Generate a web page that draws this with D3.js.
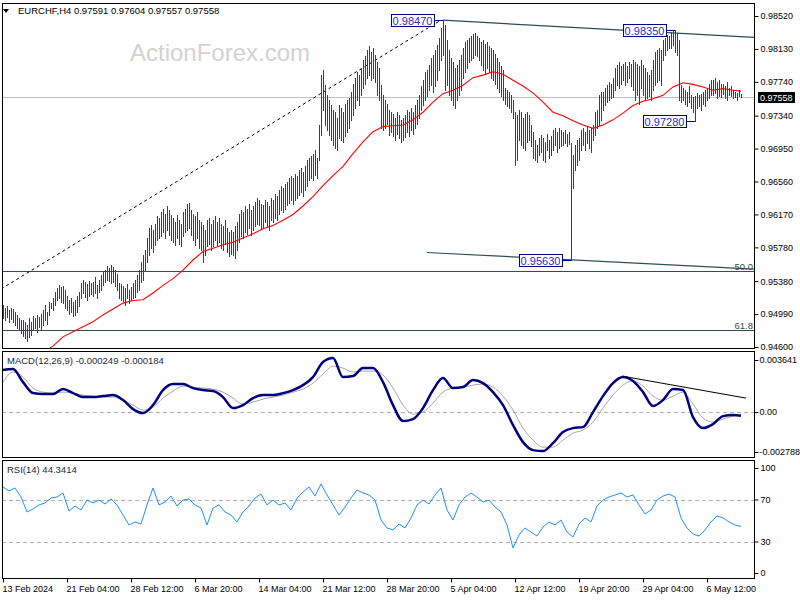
<!DOCTYPE html>
<html><head><meta charset="utf-8">
<script src="https://cdn.jsdelivr.net/npm/d3@7"></script>
<style>body{margin:0;background:#fff} text{font-family:"Liberation Sans",Arial,sans-serif}</style>
</head><body><svg id="c" width="800" height="600"></svg>
<script>
// ---------- DATA ----------
const high = [
.9510,.9506,.9509,.9504,.9506,.9505,.9501,.9498,.9494,.9492,
.9492,.9490,.9486,.9494,.9490,.9497,.9494,.9498,.9495,.9499,
.9504,.9510,.9501,.9513,.9512,.9518,.9525,.9530,.9533,.9531,
.9532,.9527,.9520,.9516,.9518,.9513,.9516,.9520,.9525,.9536,
.9539,.9537,.9535,.9538,.9536,.9537,.9543,.9533,.9539,.9545,
.9549,.9551,.9556,.9554,.9557,.9555,.9551,.9546,.9536,.9535,
.9532,.9530,.9535,.9527,.9531,.9536,.9539,.9545,.9551,.9561,
.9569,.9575,.9589,.9601,.9604,.9598,.9606,.9615,.9613,.9620,
.9624,.9617,.9627,.9622,.9616,.9613,.9608,.9616,.9610,.9606,
.9620,.9624,.9629,.9630,.9622,.9617,.9615,.9620,.9610,.9608,
.9604,.9598,.9610,.9613,.9606,.9610,.9615,.9608,.9613,.9606,
.9603,.9610,.9601,.9596,.9598,.9596,.9603,.9608,.9617,.9622,
.9620,.9627,.9624,.9629,.9622,.9627,.9632,.9636,.9634,.9629,
.9628,.9634,.9632,.9627,.9636,.9634,.9641,.9639,.9646,.9651,
.9648,.9653,.9655,.9660,.9663,.9660,.9665,.9663,.9670,.9672,
.9667,.9674,.9682,.9684,.9686,.9689,.9693,.9684,.9723,.9782,
.9788,.9770,.9758,.9752,.9747,.9741,.9738,.9731,.9747,.9743,
.9738,.9748,.9752,.9755,.9762,.9771,.9779,.9786,.9782,.9790,
.9800,.9805,.9812,.9816,.9809,.9814,.9806,.9797,.9790,.9770,
.9758,.9752,.9748,.9741,.9738,.9736,.9731,.9738,.9735,.9729,
.9731,.9735,.9741,.9738,.9743,.9738,.9747,.9752,.9758,.9769,
.9776,.9786,.9788,.9794,.9802,.9806,.9812,.9818,.9826,.9838,
.9847,.9841,.9824,.9812,.9802,.9797,.9790,.9794,.9800,.9806,
.9814,.9821,.9824,.9826,.9828,.9831,.9832,.9828,.9826,.9821,
.9824,.9819,.9821,.9816,.9814,.9812,.9807,.9802,.9797,.9793,
.9788,.9767,.9764,.9762,.9758,.9752,.9738,.9735,.9741,.9738,
.9731,.9736,.9738,.9735,.9723,.9715,.9705,.9699,.9707,.9711,
.9707,.9703,.9712,.9705,.9710,.9717,.9719,.9715,.9719,.9717,
.9715,.9717,.9712,.9715,.9702,.9687,.9699,.9705,.9707,.9717,
.9719,.9715,.9721,.9717,.9719,.9723,.9738,.9741,.9758,.9762,
.9762,.9767,.9770,.9774,.9771,.9779,.9790,.9794,.9797,.9793,
.9795,.9797,.9793,.9797,.9795,.9800,.9797,.9795,.9793,.9800,
.9794,.9790,.9786,.9782,.9788,.9800,.9809,.9812,.9814,.9812,
.9824,.9826,.9829,.9828,.9833,.9834,.9835,.9832,.9824,.9770,
.9767,.9764,.9762,.9769,.9758,.9756,.9757,.9761,.9758,.9760,
.9762,.9764,.9767,.9771,.9776,.9776,.9779,.9774,.9776,.9771,
.9771,.9769,.9774,.9767,.9769,.9764,.9762,.9761,.9764,.9760];
const low = [
.9494,.9492,.9495,.9490,.9493,.9490,.9486,.9482,.9480,.9477,
.9473,.9471,.9467,.9472,.9474,.9480,.9482,.9478,.9484,.9481,
.9486,.9492,.9487,.9498,.9506,.9504,.9510,.9516,.9518,.9513,
.9512,.9506,.9504,.9499,.9501,.9497,.9498,.9501,.9509,.9518,
.9524,.9519,.9516,.9520,.9523,.9520,.9524,.9518,.9525,.9527,
.9533,.9537,.9539,.9538,.9536,.9537,.9532,.9527,.9518,.9516,
.9515,.9510,.9518,.9512,.9516,.9518,.9519,.9525,.9527,.9537,
.9539,.9551,.9561,.9569,.9577,.9573,.9581,.9587,.9589,.9591,
.9596,.9589,.9598,.9593,.9587,.9584,.9581,.9589,.9582,.9580,
.9591,.9596,.9598,.9601,.9593,.9587,.9581,.9589,.9577,.9575,
.9561,.9569,.9580,.9582,.9575,.9580,.9587,.9581,.9584,.9577,
.9575,.9582,.9573,.9568,.9570,.9569,.9565,.9575,.9584,.9591,
.9589,.9596,.9594,.9601,.9593,.9598,.9603,.9606,.9604,.9601,
.9601,.9608,.9603,.9598,.9610,.9608,.9613,.9610,.9617,.9622,
.9620,.9624,.9628,.9630,.9634,.9629,.9634,.9636,.9640,.9643,
.9639,.9646,.9651,.9658,.9660,.9658,.9664,.9660,.9682,.9711,
.9741,.9723,.9717,.9711,.9705,.9699,.9696,.9693,.9707,.9705,
.9703,.9710,.9715,.9719,.9729,.9735,.9743,.9752,.9747,.9758,
.9767,.9771,.9779,.9782,.9776,.9779,.9774,.9758,.9752,.9719,
.9717,.9719,.9724,.9711,.9715,.9710,.9705,.9712,.9707,.9703,
.9705,.9709,.9715,.9710,.9717,.9712,.9719,.9724,.9731,.9741,
.9747,.9752,.9757,.9764,.9770,.9762,.9769,.9776,.9788,.9800,
.9806,.9764,.9770,.9758,.9752,.9747,.9743,.9752,.9758,.9764,
.9779,.9786,.9790,.9797,.9800,.9802,.9806,.9805,.9800,.9794,
.9788,.9783,.9790,.9786,.9779,.9776,.9771,.9767,.9762,.9757,
.9752,.9748,.9745,.9743,.9738,.9731,.9676,.9682,.9705,.9699,
.9696,.9693,.9703,.9705,.9698,.9684,.9682,.9679,.9687,.9691,
.9682,.9679,.9693,.9684,.9687,.9693,.9699,.9691,.9696,.9698,
.9699,.9702,.9698,.9700,.9563,.9648,.9670,.9676,.9682,.9693,
.9699,.9693,.9702,.9696,.9691,.9705,.9711,.9719,.9723,.9729,
.9741,.9747,.9750,.9752,.9755,.9756,.9764,.9770,.9767,.9771,
.9776,.9770,.9774,.9779,.9769,.9764,.9752,.9758,.9748,.9767,
.9758,.9752,.9755,.9757,.9752,.9764,.9770,.9774,.9776,.9770,
.9800,.9806,.9812,.9814,.9814,.9818,.9809,.9806,.9752,.9750,
.9752,.9748,.9745,.9750,.9743,.9738,.9728,.9743,.9745,.9741,
.9748,.9745,.9752,.9755,.9758,.9758,.9761,.9755,.9757,.9756,
.9760,.9755,.9752,.9758,.9757,.9755,.9756,.9752,.9757,.9756];

const maIndex = d3.range(20, 366, 5).concat([369]);
const maValues = [
.9454,.9461,.9472,.9478,.9484,.9490,.9498,.9505,.9512,.9515,
.9516,.9524,.9533,.9541,.9551,.9563,.9573,.9577,.9581,.9584,
.9589,.9594,.9600,.9604,.9610,.9617,.9627,.9638,.9651,.9663,
.9674,.9689,.9703,.9715,.9721,.9722,.9723,.9729,.9738,.9750,
.9760,.9764,.9770,.9779,.9782,.9786,.9783,.9776,.9769,.9761,
.9750,.9738,.9734,.9728,.9723,.9719,.9723,.9729,.9737,.9746,
.9751,.9754,.9758,.9768,.9773,.9771,.9768,.9764,.9766,.9764,
.9763];

const macdIndex = d3.range(0, 366, 5).concat([369]);
const macdMain = [
0.002936,0.003006,0.002097,0.001328,0.001258,0.001258,0.001608,0.001328,0.001049,0.001049,
0.001118,0.001188,0.000839,0.000210,-0.000070,0.000489,0.001538,0.001957,0.001957,0.001678,
0.001538,0.001468,0.001049,0.000280,0.000489,0.000979,0.001188,0.001188,0.001328,0.001538,
0.001887,0.002447,0.003495,0.003775,0.002447,0.002516,0.003076,0.003076,0.002097,0.000489,
-0.000629,-0.000489,0.000280,0.001538,0.002377,0.001678,0.001748,0.002237,0.002027,0.001398,
0.000489,-0.000909,-0.002097,-0.002656,-0.002726,-0.002167,-0.001398,-0.001118,-0.001049,0.000000,
0.001118,0.002027,0.002447,0.002167,0.001398,0.000419,0.000839,0.001608,0.001538,-0.000350,
-0.001118,-0.000839,-0.000280,-0.000210,-0.000249];
const macdSignal = [
0.002097,0.002796,0.002447,0.001678,0.001398,0.001328,0.001398,0.001328,0.001188,0.001118,
0.001049,0.001049,0.000839,0.000489,0.000140,0.000350,0.000979,0.001468,0.001817,0.001748,
0.001678,0.001608,0.001398,0.000979,0.000559,0.000699,0.000909,0.001049,0.001188,0.001398,
0.001608,0.002027,0.002656,0.003215,0.003076,0.002796,0.002866,0.002866,0.002586,0.001678,
0.000489,-0.000140,0.000000,0.000629,0.001398,0.001678,0.001748,0.001887,0.001957,0.001748,
0.001118,0.000140,-0.001118,-0.001957,-0.002447,-0.002447,-0.001957,-0.001468,-0.001258,-0.000699,
0.000280,0.001188,0.001887,0.002167,0.001817,0.001118,0.000839,0.001118,0.001398,0.000559,
-0.000419,-0.000699,-0.000489,-0.000280,-0.000184];

const rsiIndex = d3.range(0, 367, 3).concat([369]);
const rsiValues = [
81.9,78.1,81.0,72.4,58.1,61.0,64.8,66.7,71.4,72.4,
76.2,59.0,63.8,60.0,69.5,66.7,69.5,65.7,70.5,64.8,
55.2,45.7,48.6,46.7,64.8,81.0,64.8,67.6,73.3,63.8,
69.5,70.5,64.8,61.9,45.7,61.9,64.8,58.1,55.2,48.6,
58.1,63.8,71.4,75.2,64.8,69.5,64.8,66.7,60.0,71.4,
77.1,81.9,73.3,84.8,74.3,64.8,55.2,62.9,71.4,79.0,
76.2,74.3,69.5,50.5,42.9,41.0,46.7,42.9,52.4,64.8,
69.5,65.7,74.3,81.0,60.0,50.5,64.8,72.4,76.2,72.4,
67.6,69.5,62.9,58.1,45.7,23.8,36.2,42.9,39.0,35.2,
43.8,48.6,45.7,50.5,39.0,34.3,46.7,52.4,48.6,63.8,
69.5,72.4,74.3,76.2,72.4,74.3,64.8,56.2,60.0,69.5,
73.3,75.2,72.4,52.4,42.9,37.1,35.2,41.0,48.6,54.3,
52.4,48.6,45.7,44.3414];

const priceTicks = [0.98520,0.98130,0.97740,0.97340,0.96950,0.96560,0.96170,0.95780,0.95380,0.94990,0.94600];
const macdTicks = [0.003641, 0, -0.002788];
const macdTickLabels = ["0.003641","0.00","-0.002788"];
const rsiTicks = [100,70,30,0];
const dateTickIndex = [0,32,64,96,128,160,192,224,256,288,320,352];
const dateLabels = ["13 Feb 2024","21 Feb 04:00","28 Feb 12:00","6 Mar 20:00","14 Mar 04:00","21 Mar 12:00","28 Mar 20:00","5 Apr 04:00","12 Apr 12:00","19 Apr 20:00","29 Apr 04:00","6 May 12:00"];
const lastPrice = 0.97558;
const fibLevels = [{p:0.9550,label:"50.0"},{p:0.9480,label:"61.8"}];
const channelUpper = [[220,0.98470],[375.5,0.98268]];
const channelLower = [[212,0.95719],[375.5,0.95523]];
const dashedTrend = [[-1,0.95287],[219,0.98472]];
const macdTrend = [[309.5,0.002516],[371.5,0.000979]];
const priceLabels = [{i:220,p:0.98470,t:"0.98470"},{i:336,p:0.98350,t:"0.98350"},{i:346,p:0.97280,t:"0.97280"},{i:284,p:0.95630,t:"0.95630"}];
const headerText = "EURCHF,H4  0.97591 0.97604 0.97557 0.97558";
const macdTitle = "MACD(12,26,9) -0.000249 -0.000184";
const rsiTitle = "RSI(14) 44.3414";

// ---------- DRAW ----------
const svg = d3.select('#c');
const L=2, R=754;
const P = {main:[3,348], macd:[351,457], rsi:[460,578]};
const x = d3.scaleLinear().domain([-0.5,375.5]).range([L,R]);
const yP = d3.scaleLinear().domain([0.94600,0.98520]).range([347,16]);
const yM = d3.scaleLinear().domain([-0.002788,0.003641]).range([452,360]);
const yR = d3.scaleLinear().domain([0,100]).range([573,468]);
const fs = 9.5, afs = 9;

const defs = svg.append('defs');
Object.entries(P).forEach(([k,[t,b]])=>{
  defs.append('clipPath').attr('id','clip-'+k).append('rect').attr('x',L).attr('y',t).attr('width',R-L).attr('height',b-t);
});
const gMain = svg.append('g').attr('clip-path','url(#clip-main)');
const gMacd = svg.append('g').attr('clip-path','url(#clip-macd)');
const gRsi = svg.append('g').attr('clip-path','url(#clip-rsi)');

// watermark
svg.append('text').attr('x',130).attr('y',61).attr('font-size',24).attr('fill','#d2d2d2').text('ActionForex.com');

// fib lines
fibLevels.forEach(f=>{
  const yy = Math.round(yP(f.p))+0.5;
  gMain.append('line').attr('x1',L).attr('x2',R).attr('y1',yy).attr('y2',yy).attr('stroke','#2f4f4f');
  svg.append('text').attr('x',R-1).attr('y',yy-2).attr('text-anchor','end').attr('font-size',fs).attr('fill','#2f4f4f').text(f.label);
});
// current price line
const yl = Math.round(yP(lastPrice))+0.5;
gMain.append('line').attr('x1',L).attr('x2',R).attr('y1',yl).attr('y2',yl).attr('stroke','#c0c0c0');

const lineP = d3.line().x(d=>x(d[0])).y(d=>yP(d[1]));
gMain.append('path').attr('d',lineP(channelUpper)).attr('stroke','#2f4f4f').attr('fill','none').attr('stroke-width',1.2);
gMain.append('path').attr('d',lineP(channelLower)).attr('stroke','#2f4f4f').attr('fill','none').attr('stroke-width',1.2);
gMain.append('path').attr('d',lineP(dashedTrend)).attr('stroke','#000').attr('fill','none').attr('stroke-dasharray','3,3');

// bars
const xb = i => Math.round(x(i))+0.5;
gMain.selectAll('line.bar').data(high).join('line').attr('class','bar')
  .attr('x1',(d,i)=>xb(i)).attr('x2',(d,i)=>xb(i))
  .attr('y1',d=>Math.round(yP(d))).attr('y2',(d,i)=>Math.round(yP(low[i]))+1)
  .attr('stroke','#1c4866').attr('shape-rendering','crispEdges');

// MA
gMain.append('path').attr('d',lineP(maIndex.map((i,k)=>[i,maValues[k]]))).attr('stroke','#ff0000').attr('fill','none').attr('stroke-width',1.1);

// price labels
priceLabels.forEach(l=>{
  const bx = x(l.i), by = yP(l.p);
  const w=43,h=12, rx = bx-9;
  svg.append('line').attr('x1',rx).attr('x2',bx).attr('y1',Math.round(by)+0.5).attr('y2',Math.round(by)+0.5).attr('stroke','#000080');
  svg.append('rect').attr('x',Math.round(rx-w)+0.5).attr('y',Math.round(by-h/2)+0.5).attr('width',w).attr('height',h).attr('fill','#fff').attr('stroke','#000080');
  svg.append('text').attr('x',rx-w/2).attr('y',Math.round(by)+4.5).attr('text-anchor','middle').attr('font-size',11).attr('fill','#2a2ad0').text(l.t);
});

// MACD
gMacd.append('line').attr('x1',L).attr('x2',R).attr('y1',Math.round(yM(0))+0.5).attr('y2',Math.round(yM(0))+0.5).attr('stroke','#b0b0b0').attr('stroke-dasharray','4,3');
const lineM = d3.line().x(d=>x(d[0])).y(d=>yM(d[1])).curve(d3.curveMonotoneX);
gMacd.append('path').attr('d',lineM(macdIndex.map((i,k)=>[i,macdSignal[k]]))).attr('stroke','#a8a8a8').attr('fill','none').attr('stroke-width',1);
gMacd.append('path').attr('d',lineM(macdIndex.map((i,k)=>[i,macdMain[k]]))).attr('stroke','#000080').attr('fill','none').attr('stroke-width',2.5);
gMacd.append('path').attr('d',d3.line().x(d=>x(d[0])).y(d=>yM(d[1]))(macdTrend)).attr('stroke','#000').attr('fill','none');
svg.append('text').attr('x',7).attr('y',364).attr('font-size',fs).attr('fill','#1a2a40').text(macdTitle);

// RSI
[70,30].forEach(v=>{
  const yy = Math.round(yR(v))+0.5;
  gRsi.append('line').attr('x1',L).attr('x2',R).attr('y1',yy).attr('y2',yy).attr('stroke','#b0b0b0').attr('stroke-dasharray','4,3');
});
const lineR = d3.line().x(d=>x(d[0])).y(d=>yR(d[1]));
gRsi.append('path').attr('d',lineR(rsiIndex.map((i,k)=>[i,rsiValues[k]]))).attr('stroke','#1e90ff').attr('fill','none').attr('stroke-width',1);
svg.append('text').attr('x',7).attr('y',473).attr('font-size',fs).attr('fill','#1a2a40').text(rsiTitle);

// frames
Object.values(P).forEach(([t,b])=>{
  svg.append('rect').attr('x',L+0.5).attr('y',t+0.5).attr('width',R-L).attr('height',b-t).attr('fill','none').attr('stroke','#000');
});

// axes
function styleAxis(g){
  g.select('.domain').remove();
  g.selectAll('text').attr('font-size',afs).attr('font-family','"Liberation Sans",Arial,sans-serif').attr('fill','#000');
  g.selectAll('line').attr('stroke','#000');
}
svg.append('g').attr('transform',`translate(${R+0.5},0)`)
  .call(d3.axisRight(yP).tickValues(priceTicks).tickSize(4).tickPadding(2).tickFormat(d3.format('.5f'))).call(styleAxis);
svg.append('g').attr('transform',`translate(${R+0.5},0)`)
  .call(d3.axisRight(yM).tickValues(macdTicks).tickSize(4).tickPadding(1).tickFormat((d,i)=>macdTickLabels[i])).call(styleAxis);
svg.append('g').attr('transform',`translate(${R+0.5},0)`)
  .call(d3.axisRight(yR).tickValues(rsiTicks).tickSize(4).tickPadding(2)).call(styleAxis);
const xa = svg.append('g').attr('transform',`translate(0,${P.rsi[1]+0.5})`)
  .call(d3.axisBottom(x).tickValues(dateTickIndex).tickSize(4).tickPadding(3).tickFormat((d,i)=>dateLabels[i])).call(styleAxis);
xa.selectAll('text').attr('text-anchor','start').attr('dx',-1);
xa.selectAll('.tick').attr('transform',d=>`translate(${Math.round(x(d))+0.5},0)`);

// last price marker
const ly = yP(lastPrice);
svg.append('rect').attr('x',758).attr('y',Math.round(ly)-5).attr('width',37).attr('height',11).attr('fill','#000');
svg.append('text').attr('x',760).attr('y',Math.round(ly)+4).attr('font-size',afs).attr('fill','#fff').text(d3.format('.5f')(lastPrice));

// header
svg.append('path').attr('d','M3,9 L9,9 L6,13 Z').attr('fill','#000');
svg.append('text').attr('x',18).attr('y',14).attr('font-size',fs).attr('fill','#000').text(headerText);
</script></body></html>
